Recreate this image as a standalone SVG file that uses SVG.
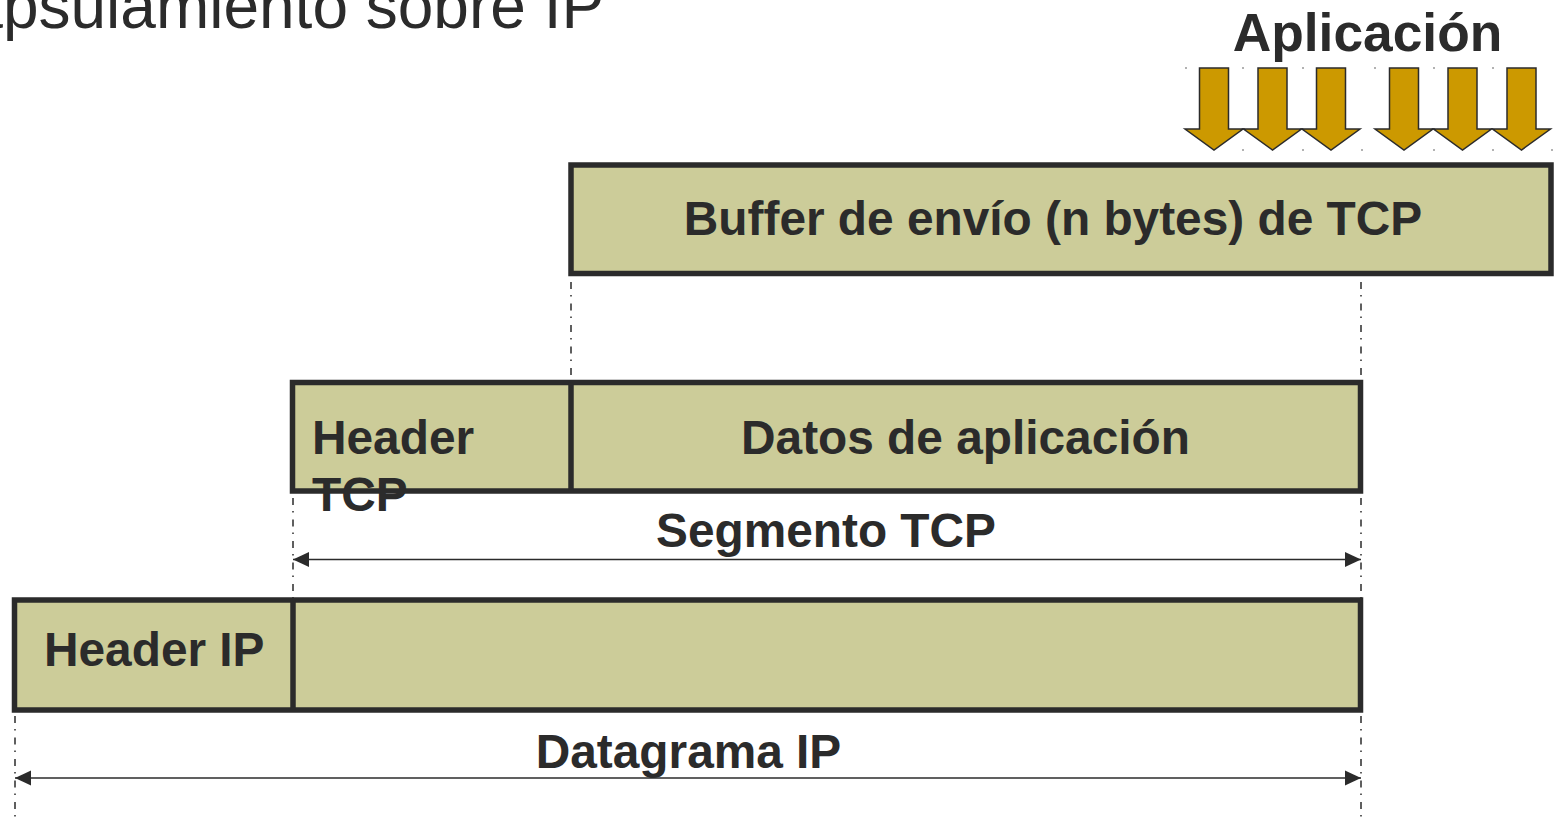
<svg xmlns="http://www.w3.org/2000/svg" width="1558" height="817" viewBox="0 0 1558 817">
<style>
.box{fill:#cccc99;stroke:#2b2b2b;stroke-width:5.5}
.div{stroke:#2b2b2b;stroke-width:5.5;fill:none}
.lbl{font-family:"Liberation Sans",Arial,sans-serif;font-weight:bold;font-size:47.8px;fill:#2b2b2b}
.title{font-family:"Liberation Sans",Arial,sans-serif;font-size:64px;fill:#2b2b2b}
.dd{stroke:#2b2b2b;stroke-width:1.5;fill:none;stroke-dasharray:7 6 1.5 7}
.dim{stroke:#2b2b2b;stroke-width:1.6;fill:none;marker-start:url(#ah);marker-end:url(#ah)}
.app{fill:#cc9900;stroke:#2b2b2b;stroke-width:1.5;stroke-linejoin:miter}
.tick{fill:#666}
</style>
<defs>
<marker id="ah" viewBox="0 0 16 16" refX="16" refY="8" markerWidth="16" markerHeight="16" markerUnits="userSpaceOnUse" orient="auto-start-reverse">
<path d="M0,0.5 L16,8 L0,15.5 Z" fill="#2b2b2b"/>
</marker>
<path id="darr" d="M-14.5,0 L14.5,0 L14.5,61 L29,61 L0,82 L-29,61 L-14.5,61 Z"/>
</defs>
<text class="title" x="-143" y="28">Encapsulamiento sobre IP</text>
<g id="aplicacion">
<text class="lbl" x="1367.5" y="51" text-anchor="middle" style="font-size:53.33px">Aplicación</text>
<g class="app">
<use href="#darr" x="1214" y="68"/>
<use href="#darr" x="1272.5" y="68"/>
<use href="#darr" x="1331" y="68"/>
<use href="#darr" x="1404" y="68"/>
<use href="#darr" x="1462.5" y="68"/>
<use href="#darr" x="1521.5" y="68"/>
</g>
<g class="tick">
<rect x="1185.5" y="67" width="1" height="2"/><rect x="1242.5" y="67" width="1" height="2"/><rect x="1302.5" y="67" width="1" height="2"/>
<rect x="1374.5" y="67" width="1" height="2"/><rect x="1433.5" y="67" width="1" height="2"/><rect x="1492.5" y="67" width="1" height="2"/>
<rect x="1242.5" y="149" width="1" height="2"/><rect x="1302.5" y="149" width="1" height="2"/><rect x="1361.5" y="149" width="1" height="2"/>
<rect x="1433.5" y="149" width="1" height="2"/><rect x="1492.5" y="149" width="1" height="2"/><rect x="1551.5" y="149" width="1" height="2"/>
</g>
</g>
<g id="buffer">
<rect class="box" x="571" y="165" width="980" height="108.5"/>
<text class="lbl" x="1053" y="235" text-anchor="middle">Buffer de envío (n bytes) de TCP</text>
</g>
<g id="segmento">
<rect class="box" x="292.5" y="382.5" width="1068" height="108.5"/>
<line class="div" x1="571" y1="382.5" x2="571" y2="491"/>
<text class="lbl" x="312" y="454">Header</text>
<text class="lbl" x="312" y="511">TCP</text>
<text class="lbl" x="965.5" y="454" text-anchor="middle">Datos de aplicación</text>
</g>
<g id="datagrama">
<rect class="box" x="14.5" y="600" width="1346" height="110"/>
<line class="div" x1="293" y1="600" x2="293" y2="710"/>
<text class="lbl" x="44" y="666">Header IP</text>
</g>
<g id="connectors">
<line class="dd" x1="571" y1="282" x2="571" y2="380"/>
<line class="dd" x1="1361" y1="282" x2="1361" y2="380"/>
<line class="dd" x1="293" y1="498" x2="293" y2="598"/>
<line class="dd" x1="1361" y1="498" x2="1361" y2="598"/>
<line class="dd" x1="15" y1="716" x2="15" y2="817"/>
<line class="dd" x1="1361" y1="716" x2="1361" y2="817"/>
<line class="dim" x1="293" y1="559.5" x2="1361" y2="559.5"/>
<text class="lbl" x="826" y="547" text-anchor="middle">Segmento TCP</text>
<line class="dim" x1="15" y1="778" x2="1361" y2="778"/>
<text class="lbl" x="688.5" y="768" text-anchor="middle">Datagrama IP</text>
</g>
</svg>
